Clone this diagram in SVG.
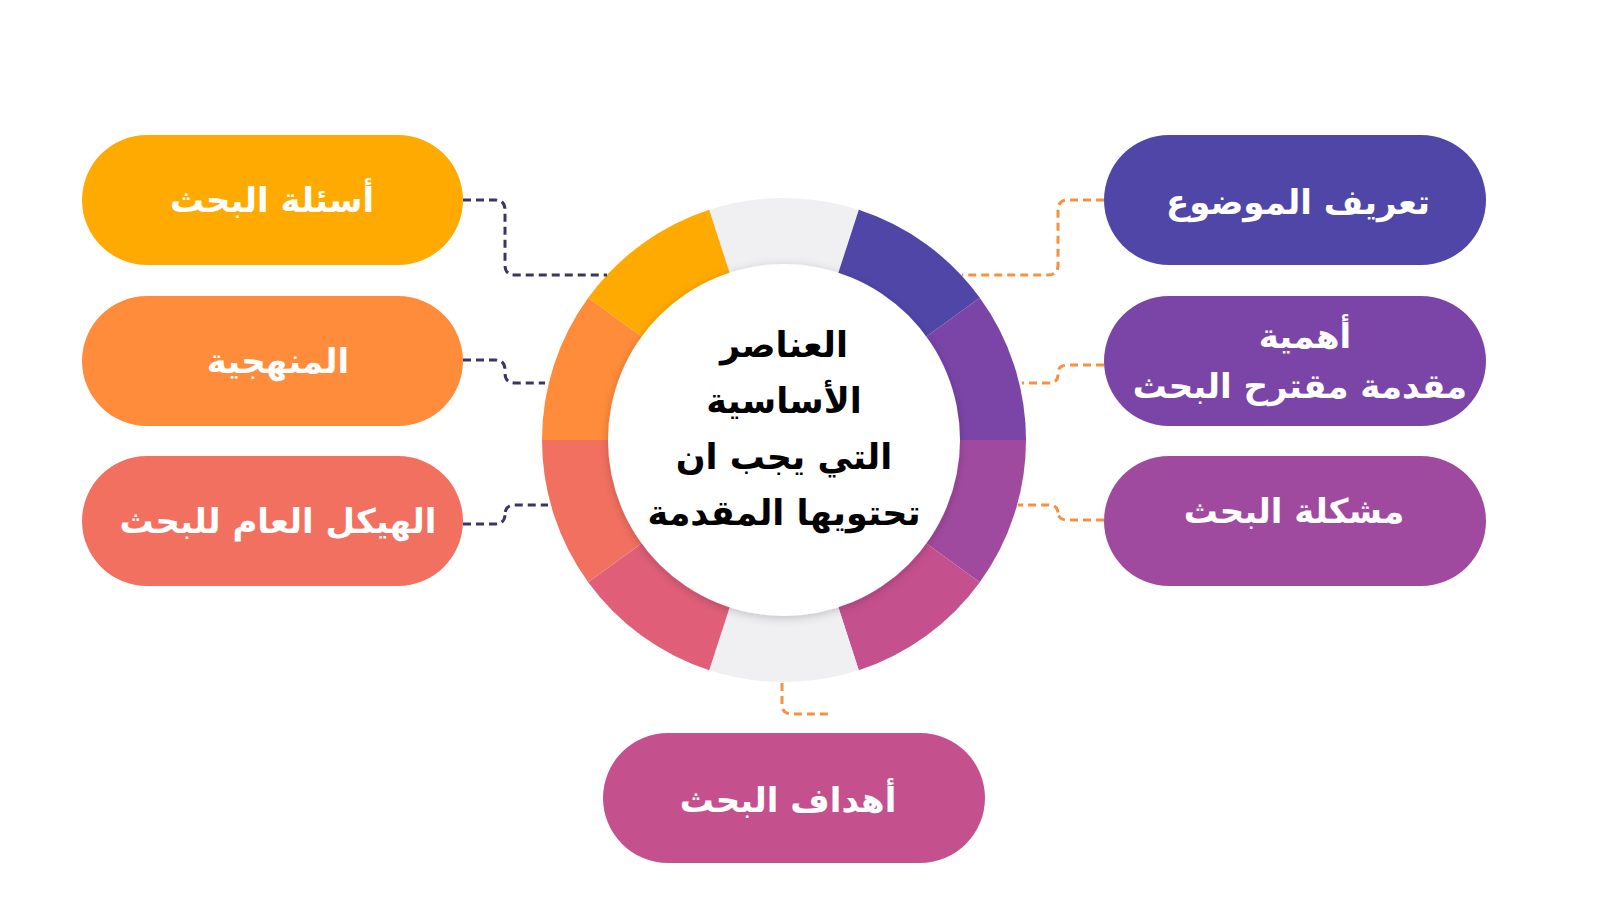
<svg xmlns="http://www.w3.org/2000/svg" width="1600" height="900" viewBox="0 0 1600 900">
<style>
.pt{font-family:"DejaVu Sans","Noto Sans",sans-serif;font-weight:bold;font-size:34px;fill:#fff;text-anchor:middle}
.ct{font-family:"DejaVu Sans","Noto Sans",sans-serif;font-weight:bold;font-size:35px;fill:#000;text-anchor:middle}
.dn{fill:none;stroke:#3A3566;stroke-width:3;stroke-dasharray:8 5}
.do{fill:none;stroke:#F7913D;stroke-width:3;stroke-dasharray:8 5}
</style>
<defs><filter id="sh" x="-20%" y="-20%" width="140%" height="140%"><feDropShadow dx="0" dy="2" stdDeviation="5" flood-opacity="0.2"/></filter></defs>
<rect width="1600" height="900" fill="#fff"/>
<g id="ring">
<path d="M784,440 L709.2,209.8 A242,242 0 0 1 858.8,209.8Z" fill="#F0F0F2"/>
<path d="M784,440 L858.8,209.8 A242,242 0 0 1 979.8,297.8Z" fill="#5046A8"/>
<path d="M784,440 L979.8,297.8 A242,242 0 0 1 1026,440Z" fill="#7B45A8"/>
<path d="M784,440 L1026,440 A242,242 0 0 1 979.8,582.2Z" fill="#A04A9F"/>
<path d="M784,440 L979.8,582.2 A242,242 0 0 1 858.8,670.2Z" fill="#C4508E"/>
<path d="M784,440 L858.8,670.2 A242,242 0 0 1 709.2,670.2Z" fill="#F0F0F2"/>
<path d="M784,440 L709.2,670.2 A242,242 0 0 1 588.2,582.2Z" fill="#E05E78"/>
<path d="M784,440 L588.2,582.2 A242,242 0 0 1 542,440Z" fill="#F27060"/>
<path d="M784,440 L542,440 A242,242 0 0 1 588.2,297.8Z" fill="#FF8C3A"/>
<path d="M784,440 L588.2,297.8 A242,242 0 0 1 709.2,209.8Z" fill="#FFAA00"/>
<circle cx="784" cy="440" r="176" fill="#fff" filter="url(#sh)"/>
<text class="ct" x="784" y="357">العناصر</text>
<text class="ct" x="784" y="413">الأساسية</text>
<text class="ct" x="784" y="469">التي يجب ان</text>
<text class="ct" x="784" y="525">تحتويها المقدمة</text>
</g>
<g id="connectors">
<path class="dn" d="M463,200 H495 Q505,200 505,210 V265 Q505,275 515,275 H607"/>
<path class="dn" d="M463,360 H495 Q505,360 505,370 V373 Q505,383 515,383 H545"/>
<path class="dn" d="M463,524 H495 Q505,524 505,514 V515 Q505,505 515,505 H548"/>
<path class="do" d="M1104,200 H1068 Q1058,200 1058,210 V265 Q1058,275 1048,275 H962"/>
<path class="do" d="M1104,365 H1068 Q1058,365 1058,373 V375 Q1058,383 1048,383 H1022"/>
<path class="do" d="M1104,520 H1068 Q1058,520 1058,512 V513 Q1058,505 1048,505 H1018"/>
<path class="do" d="M782,683 V704 Q782,714 792,714 H832"/>
</g>
<g id="n1"><rect x="82" y="135" width="381" height="130" rx="65" fill="#FFAA00"/><text class="pt" x="272" y="212">أسئلة البحث</text></g>
<g id="n2"><rect x="82" y="296" width="381" height="130" rx="65" fill="#FF8C3A"/><text class="pt" x="278" y="373">المنهجية</text></g>
<g id="n3"><rect x="82" y="456" width="381" height="130" rx="65" fill="#F27060"/><text class="pt" x="278" y="533">الهيكل العام للبحث</text></g>
<g id="n4"><rect x="1104" y="135" width="382" height="130" rx="65" fill="#5046A8"/><text class="pt" x="1298" y="214">تعريف الموضوع</text></g>
<g id="n5"><rect x="1104" y="296" width="382" height="130" rx="65" fill="#7B45A8"/><text class="pt" x="1305" y="348">أهمية</text><text class="pt" x="1300" y="398">مقدمة مقترح البحث</text></g>
<g id="n6"><rect x="1104" y="456" width="382" height="130" rx="65" fill="#A04A9F"/><text class="pt" x="1294" y="523">مشكلة البحث</text></g>
<g id="n7"><rect x="603" y="733" width="382" height="130" rx="65" fill="#C4508E"/><text class="pt" x="788" y="812">أهداف البحث</text></g>
</svg>
